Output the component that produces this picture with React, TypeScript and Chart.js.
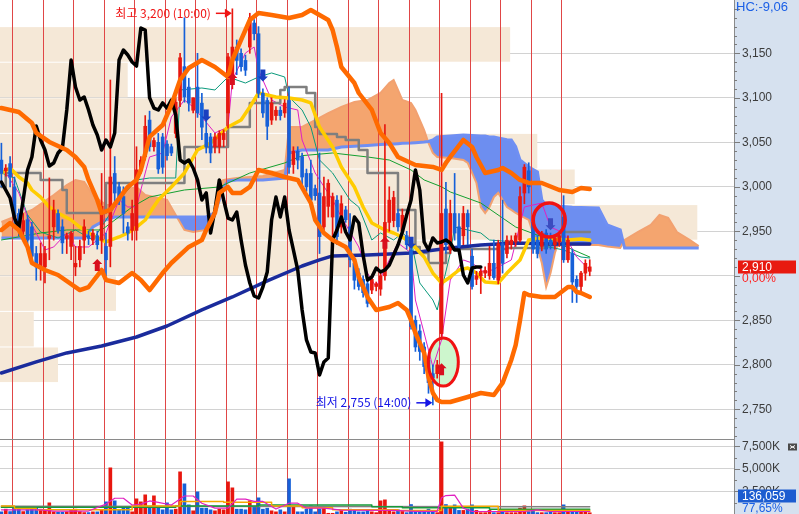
import { useEffect, useRef } from 'react';
import { Chart, registerables } from 'chart.js';

Chart.register(...registerables);

// ---------------- data ----------------
const sessionStarts = [3, 10, 17, 24, 31, 38, 45, 52, 59, 66, 73, 80, 87, 94, 101, 108, 115, 122, 129];
const hourLabels = ['09:00', '10:00', '11:00', '12:00', '13:00', '14:00', '15:00'];

const open = [3030,3018,3026,3000,2970,2950,2963,2955,2925,2910,
2910,2942,2955,2970,2955,2942,2933,2910,2918,2940,
2945,2940,2945,2940,2933,2933,3015,3000,2989,2955,
2951,2951,3019,3034,3075,3045,3050,3056,3048,3045,
3060,3097,3135,3112,3086,3112,3094,3060,3056,3045,
3045,3053,3083,3120,3157,3150,3142,3157,3184,3172,
3105,3097,3075,3080,3086,3083,3097,3025,3040,3034,
3015,3015,2998,2993,2955,2978,2966,2985,2955,2974,
2955,2914,2903,2896,2891,2884,2888,2885,2900,2960,
2962,2970,2950,2945,2929,2850,2838,2820,2805,2790,
2790,2835,2975,2929,2970,2955,2945,2970,2922,2896,
2900,2903,2900,2914,2895,2936,2925,2935,2938,2940,
2993,3018,2960,2940,2933,2948,2940,2935,2938,2966,
2918,2925,2896,2888,2903,2905];
const high = [3049,3025,3034,3011,2975,2970,2968,2960,2933,2937,
2933,3010,2985,2974,2963,2948,2950,2933,2940,2963,
2950,2952,2950,3015,2948,3120,3034,3005,3000,2960,
2985,3045,3034,3080,3085,3055,3060,3060,3052,3048,
3100,3150,3190,3122,3100,3150,3105,3075,3060,3060,
3063,3064,3150,3200,3165,3155,3148,3195,3188,3180,
3110,3100,3100,3090,3090,3098,3112,3045,3045,3038,
3020,3030,3002,3038,3011,3008,2993,2990,2990,2978,
2970,2918,2908,2900,2895,2900,2893,2905,3070,3000,
2995,2975,2975,2950,2935,2855,2845,2825,2810,2800,
2805,3105,3005,2985,3015,2970,2978,2974,2930,2905,
2908,2910,2933,2940,2940,2985,2945,2945,2948,3000,
3025,3027,2965,2945,2950,2952,2948,2945,2948,2990,
2945,2930,2900,2905,2918,2918];
const low = [3000,3012,3000,2955,2945,2945,2935,2915,2895,2895,
2892,2918,2940,2948,2925,2925,2918,2900,2910,2925,
2935,2935,2930,2925,2900,2910,2982,2980,2948,2940,
2940,2940,3015,3030,3040,3040,3015,3015,3030,3035,
3055,3090,3095,3085,3083,3078,3053,3038,3027,3038,
3038,3045,3066,3110,3126,3130,3125,3150,3165,3100,
3078,3053,3070,3075,3075,3078,3015,3015,3020,3000,
2995,2978,2985,2925,2951,2966,2940,2935,2948,2960,
2910,2885,2884,2876,2865,2880,2883,2878,2895,2950,
2955,2950,2945,2930,2840,2815,2805,2790,2768,2755,
2785,2830,2925,2925,2940,2925,2935,2935,2885,2890,
2880,2898,2896,2896,2891,2903,2920,2930,2933,2938,
2981,2993,2925,2920,2928,2925,2930,2930,2933,2915,
2915,2870,2870,2880,2895,2900];
const close = [3015,3021,3011,2966,2951,2962,2940,2922,2910,2925,
2925,2945,2974,2951,2937,2945,2948,2914,2933,2955,
2942,2948,2935,2978,2918,3011,2993,2985,2970,2948,
2970,3019,3030,3068,3045,3052,3020,3022,3035,3038,
3095,3145,3101,3094,3100,3083,3067,3045,3038,3056,
3060,3060,3146,3157,3142,3135,3131,3190,3172,3105,
3083,3068,3094,3086,3080,3094,3022,3040,3030,3011,
3000,2985,2990,2944,2989,3004,2989,2944,2981,2963,
2918,2895,2888,2881,2869,2896,2891,2900,2960,2985,
2988,2955,2968,2935,2843,2820,2815,2798,2780,2785,
2800,2970,2935,2970,2948,2933,2970,2955,2888,2900,
2905,2906,2914,2898,2936,2914,2940,2940,2945,2989,
3022,3000,2930,2925,2948,2930,2935,2942,2945,2918,
2940,2893,2888,2903,2914,2910];
const volumeK = [241,537,270,760,537,270,463,648,648,537,
400,1240,241,200,200,241,463,537,270,160,
160,241,241,463,1350,5130,1463,463,648,648,
241,1685,1350,2130,833,2018,648,463,1240,463,
537,4685,3351,1018,355,2463,648,648,463,355,
537,463,3574,2907,537,537,463,1463,833,1796,
537,648,355,241,463,241,3907,760,241,241,
537,907,241,537,648,80,80,241,400,200,
537,463,241,241,400,241,150,1463,1574,400,
241,463,400,150,1055,400,241,300,537,400,
150,8017,1055,760,1018,400,400,537,1018,400,
150,150,400,150,150,355,150,150,150,648,
907,270,463,150,150,150,270,150,150,1018,
270,400,241,241,270,136.059];

const priceTicks = [2750, 2800, 2850, 2900, 2950, 3000, 3050, 3100, 3150];
const volumeTicksK = [2500, 5000, 7500];

// price-by-volume bands
const profileLow = [3140, 3100, 3060, 3020, 2980, 2940, 2900, 2860, 2820, 2780];
const profileHigh = [3180, 3140, 3100, 3060, 3020, 2980, 2940, 2900, 2860, 2820];
const profileVol = [69.5, 17.4, 47.7, 73.2, 78.3, 95.0, 61.3, 15.8, 4.6, 7.9];

// envelope (thick orange)
const upperIdx = [0,4,7,8,11,15,17,19,20,22,23,25,29,31,32,34,37,39,41,43,46,49,52,53,55,57,59,62,66,69,71,75,76,77,78,81,82,85,87,89,91,95,99,101,102,103,106,108,109,111,114,115,117,119,121,124,128,131,133,135];
const upperVal = [3088.5,3084,3071.7,3060.5,3050.4,3041.4,3033.5,3022.3,3007.7,2985.2,2970.6,2974,2999.8,3007.7,3018.9,3056,3069.4,3091.9,3120,3133.5,3142.5,3134.6,3123.4,3142.5,3165,3187.4,3195.3,3193,3189.7,3193,3198.7,3187.4,3176.2,3157.1,3134.6,3116.6,3105.4,3086.3,3060.5,3049.2,3033.5,3024.5,3022.3,3018.9,3026.8,3033.5,3052.6,3044.7,3033.5,3015.5,3018.9,3021.1,3015.5,3007.7,3004.3,3004.3,2996.4,2994.2,2998.7,2997.5];
const lowerIdx = [0,2,4,6,7,10,13,18,20,23,24,27,30,32,34,37,39,43,46,47,49,50,52,53,55,57,59,62,65,68,71,72,74,76,79,81,82,84,86,89,91,93,94,95,97,98,99,100,101,103,107,110,113,115,117,118,119,120,121,124,127,130,131,132,133,135];
const lowerVal = [2951.5,2959.3,2951.5,2932.4,2914.4,2906.5,2900.9,2884,2887.4,2906.5,2895.3,2891.9,2903.1,2895.3,2884,2903.1,2914.4,2932.4,2940.2,2951.5,2970.6,2993.1,2999.8,2993.1,2993.1,2999.8,3018.9,3015.5,3011,3007.7,2981.8,2962.7,2948.1,2940.2,2932.4,2917.8,2898.7,2876.2,2861.6,2865,2869.4,2861.6,2850.3,2835.7,2813.3,2786.3,2768.3,2760.5,2758.2,2758.2,2763.8,2768.3,2766.1,2779.6,2805.4,2822,2850,2880.7,2878.4,2876.2,2876.2,2887.4,2887.4,2881.8,2880.7,2876.2];

// thick black line (candle 0..110)
const blackVal = [3005.4,2996.4,2987.4,2965,2953.7,2985.2,3018.9,3033.5,3068.3,3052.6,
3041.4,3023.4,3026.8,3038,3043.6,3086.3,3142.5,3112.2,3097.5,3100.9,
3086.3,3069.4,3058.2,3041.4,3052.6,3044.7,3060.5,3142.5,3153.7,3148.1,
3140.2,3135.7,3178.4,3176.2,3100,3088.5,3086.3,3094.2,3088.5,3097.5,
3080.7,3030.1,3026.8,3030.1,3021.1,3007.7,2985.2,2993.1,2948.1,2973.9,
3007.7,2985.2,2964.9,2962.7,2971.7,2940.2,2912.1,2891.9,2877.3,2875,
2887.4,2904.3,2962.7,2988.5,2966.1,2988.5,2951.5,2929,2906.5,2861.6,
2827.9,2814.4,2813.3,2788.6,2803.2,2807.6,2940.2,2951.5,2966.1,2949.2,
2940.2,2966.1,2959.3,2923.4,2895.3,2898.7,2908.8,2904.3,2906.5,2912.1,
2923.4,2934.6,2949.2,2968.3,2985.2,3018.9,2996.4,2938,2929,2942.5,
2936.9,2938,2940.2,2936.9,2929,2929,2900.9,2891.9,2908.8,2909.9,
2909.9];

const navyIdx = [0,8,15,23,31,38,46,53,61,69,73,76,84,94,103,110,118,126,135];
const navyVal = [2790.8,2803.2,2813.3,2821.1,2831.2,2843.6,2861.6,2876.2,2894.2,2911,2917.8,2922.3,2923.4,2925.6,2931.2,2934.6,2936.9,2935.7,2935.7];

const yellowIdx = [0,2,4,6,7,9,11,13,16,18,20,23,24,27,29,31,33,34,36,39,42,45,48,50,52,55,57,59,61,63,66,69,71,73,76,78,81,83,85,88,90,92,94,97,99,101,103,105,107,109,111,114,116,119,121,124,127,130,133,135];
const yellowVal = [3015.5,3021.1,3011,3004.3,2996.4,2988.5,2977.3,2970.6,2962.7,2954.8,2948.1,2940.2,2938,2943.6,2948.1,2954.8,2962.7,2970.6,2985.2,2999.8,3015.5,3041.4,3049.2,3058.2,3067.2,3075,3089.7,3105.4,3103.2,3100.9,3099.8,3097.5,3094.2,3067.2,3044.7,3022.3,2999.8,2977.3,2959.3,2951.5,2948.1,2943.6,2936.9,2921.1,2903.1,2891.9,2898.7,2906.5,2908.8,2903.1,2893,2891.9,2903.1,2917.8,2940.2,2942.5,2941.4,2940.2,2941.4,2940.2];

const grayIdx = [0,1,9,14,15,24,42,52,57,64,65,70,72,73,77,79,82,84,91,95,96,98,102,103,116,125,129,135];
const grayVal = [2999.8,3015.5,3007.7,2996.4,2970.6,3004.3,3044.7,3067.2,3094.2,3108.8,3112.2,3105.4,3067.2,3059.3,3056,3052.6,3041.4,3015.5,2973.9,2932.4,2925.6,2914.4,2925.6,2930.1,2931.2,2934.6,2949.2,2949.2];

const tealIdx = [0,3,6,9,13,17,21,24,27,31,34,40,41,46,49,52,56,59,62,65,66,69,71,73,76,80,82,85,87,90,92,94,96,99,100,101,103,104,107,110,112,121,129,133,135];
const tealVal = [3015.5,3009.9,2968.3,2949.2,2942.5,2951.5,2940.2,2962.7,2985.2,3007.7,3009.9,3009.9,3108.8,3111,3108.8,3123.4,3116.6,3123.4,3127.9,3123.4,3100.9,3086.3,3067.2,3030.1,3015.5,2985.2,2977.3,2940.2,2948.1,2940.2,2948.1,2940.2,2891.9,2872.8,2861.6,2884.1,2925.6,2954.8,2951.5,2948.1,2940.2,2936.9,2929,2921.1,2920];

const greenIdx = [0,9,15,23,30,34,42,50,57,65,69,76,84,89,94,97,101,103,110,118,126,135];
const greenVal = [2940.2,2948.1,2951.5,2951.5,2977.3,2988.5,2996.4,2999.8,3015.5,3026.8,3035,3038,3033.5,3030.1,3018.9,3007.7,3000,2994.2,2981.8,2954.8,2940.2,2921.1];

const magIdx = [1,4,6,8,10,12,15,17,20,22,24,27,29,31,33,34,37,39,42,44,46,49,52,53,56,58,59,62,65,68,69,72,76,78,82,84,86,89,91,94,95,97,99,101,103,106,108,111,114,117,120,124,126,129,132,135];
const magVal = [3015.5,2993.1,2966.1,2948.1,2929,2932.4,2948.1,2932.4,2932.4,2940.2,2948.1,2985.2,2977.3,2977.3,3015.5,3033.5,3038,3078.4,3097.5,3089.7,3078.4,3060.5,3067.2,3120,3150.3,3157.1,3131.2,3097.5,3089.7,3086.3,3052.6,3015.5,2985.2,2966.1,2932.4,2903.1,2887.4,2917.8,2936.9,2925.6,2872.8,2835.7,2797.5,2828,2895.3,2917.8,2914.4,2903.1,2909.9,2917.8,2977.3,2981.8,2954.8,2948.1,2921.1,2906.5];

// cloud (leading spans, shifted forward)
const cloudIdx = [0,7,12,15,17,19,21,24,26,28,31,33,35,38,40,42,44,47,49,50,51,52,54,57,60,65,66,69,72,75,78,81,84,87,89,90,91,92,94,95,97,98,99,100,103,106,107,109,110,111,112,113,114,116,117,118,119,121,123,124,125,126,127,128,131,135,137,139,142,143,146,149,151,153,155,158,160];
const spanA = [2960.5,2973.9,2990.8,3002,3007.7,3005.4,2990.8,2979.6,2979.6,2996.4,2999.8,2990.8,2988.5,2985.2,2968.3,2951.5,2949.2,2951.5,2968.3,3005.4,3007.7,3008.5,3009.9,3011,3012.1,3018.9,3067.2,3067.2,3075,3082.9,3089.7,3095.3,3097.5,3105.4,3116.6,3120,3108.8,3097.5,3094.2,3086.3,3063.8,3049.2,3038,3033.5,3032.4,3030.1,3026.8,3004.3,2977.3,2970.6,2977.3,2988.5,2993.1,2977.3,2974,2970.6,2968,2962.7,2932.4,2914.4,2887.4,2903.1,2925.6,2940.2,2934.6,2934.6,2934.6,2933,2931.2,2940.2,2949.2,2957.1,2968.3,2965,2949.2,2940.2,2933.5];
const spanB = [2942.5,2942.5,2942.5,2942.5,2942.5,2942.5,2954.8,2963,2966.1,2966.1,2966.1,2966.1,2966.1,2966.1,2966.1,2966.1,2966.1,2966.1,2970.6,2985.2,2999.8,3006.5,3007.7,3007.7,3007.7,3009.9,3038,3041.4,3041.4,3041.4,3044.7,3045.5,3046.5,3047.5,3048,3048,3048.5,3049,3049.2,3049.5,3050.3,3051,3052.6,3056,3057,3058.2,3058,3057.5,3057,3057,3056,3056,3055,3053,3052.6,3045,3030.1,3022.3,3016.6,2985.2,2979.6,2978,2978,2978,2977,2976.5,2976.2,2957.1,2951.5,2931.2,2931.2,2931.2,2931.2,2931.2,2931.2,2931.2,2931.2];

// volume moving averages (K)
const volMagIdx = [0,9,12,20,24,26,28,30,32,34,36,39,42,44,46,49,52,54,56,58,60,63,66,68,70,74,78,90,95,100,101,102,104,106,108,115,120,123,126,135];
const volMagVal = [460,460,330,330,1100,1750,1750,1000,1100,1450,1300,1000,2000,2000,1200,650,650,1650,1650,1400,1400,550,1200,1200,650,650,420,400,300,300,1800,2050,2100,650,280,280,280,450,280,280];
const volOrangeIdx = [0,3,8,23,30,41,50,51,61,62,69,76,91,100,101,113,114,121,135];
const volOrangeVal = [900,600,460,460,900,1400,1400,1300,1300,900,700,460,400,400,850,850,400,400,300];
const volGreenIdx = [0,20,40,58,59,84,85,92,111,112,121,135];
const volGreenVal = [760,760,900,900,1000,1000,800,700,700,530,530,530];
const volGrayIdx = [0,70,135];
const volGrayVal = [860,840,800];

// signals & marks
const buyIdx = [22, 53, 88, 101];
const buyPrice = [2912, 3121, 2937, 2795];
const sellIdx = [47, 60, 94, 126];
const sellPrice = [3080, 3125, 2937, 2958];
const circleIdx = [101.4, 125.7];
const circlePrice = [2803, 2962.7];

const headerText = 'HC:-9,06';
const changeText = '0,00%';
const volumeRatioText = '77,65%';

// ---------------- drawing ----------------
const RED = '#e8170f';
const BLUE = '#1660d8';
const AXIS_BG = '#d6e1ef';
const AXIS_FONT = '12px "Liberation Sans", Arial, sans-serif';
const KO_FONT = '12px "Noto Sans CJK KR", "Noto Sans", sans-serif';
const fmt = (v: number) => Math.round(v).toLocaleString('en-US');

function hourOf(n: number) {
  let start = sessionStarts[0] - 7;
  for (const s of sessionStarts) if (s <= n) start = s;
  return hourLabels[n - start];
}

function drawArrow(ctx: CanvasRenderingContext2D, x: number, y: number, up: boolean, color: string) {
  const s = up ? 1 : -1;
  ctx.fillStyle = color;
  ctx.beginPath();
  ctx.moveTo(x, y - 6 * s);
  ctx.lineTo(x + 5, y - 1 * s);
  ctx.lineTo(x + 2.5, y - 1 * s);
  ctx.lineTo(x + 2.5, y + 6 * s);
  ctx.lineTo(x - 2.5, y + 6 * s);
  ctx.lineTo(x - 2.5, y - 1 * s);
  ctx.lineTo(x - 5, y - 1 * s);
  ctx.closePath();
  ctx.fill();
}

function labelArrow(ctx: CanvasRenderingContext2D, text: string, tipX: number, y: number, color: string) {
  ctx.font = KO_FONT;
  ctx.textBaseline = 'middle';
  ctx.textAlign = 'right';
  ctx.fillStyle = color;
  ctx.fillText(text, tipX - 21, y);
  ctx.strokeStyle = color;
  ctx.lineWidth = 1.5;
  ctx.beginPath();
  ctx.moveTo(tipX - 16, y);
  ctx.lineTo(tipX - 5, y);
  ctx.stroke();
  ctx.beginPath();
  ctx.moveTo(tipX, y);
  ctx.lineTo(tipX - 7, y - 4.5);
  ctx.lineTo(tipX - 7, y + 4.5);
  ctx.closePath();
  ctx.fill();
}

const htsPlugin: any = {
  id: 'hts',
  beforeDraw(chart: any) {
    const { ctx, chartArea, width, height } = chart;
    ctx.save();
    ctx.fillStyle = '#ffffff';
    ctx.fillRect(0, 0, width, height);
    ctx.fillStyle = AXIS_BG;
    ctx.fillRect(chartArea.right, 0, width - chartArea.right, height);
    ctx.restore();
  },
  beforeDatasetsDraw(chart: any) {
    const { ctx, chartArea, scales } = chart;
    const Y = scales.y, XP = scales.xp, X = scales.x;
    ctx.save();
    ctx.fillStyle = '#f5e8d7';
    profileLow.forEach((lo, i) => {
      const yTop = Y.getPixelForValue(profileHigh[i]);
      const yBot = Y.getPixelForValue(lo);
      const xR = XP.getPixelForValue(profileVol[i]);
      ctx.fillRect(chartArea.left, yTop + 0.5, xR - chartArea.left, yBot - yTop - 1);
    });
    const cx = X.getPixelForValue(circleIdx[0]);
    const cy = Y.getPixelForValue(circlePrice[0]);
    ctx.fillStyle = '#cdf6cd';
    ctx.beginPath();
    ctx.ellipse(cx, cy, 15, 24, 0, 0, Math.PI * 2);
    ctx.fill();
    ctx.restore();
  },
  afterDatasetDraw(chart: any, args: any) {
    if (args.index !== 1) return;
    const { ctx, chartArea, scales } = chart;
    ctx.save();
    ctx.strokeStyle = '#e04646';
    ctx.lineWidth = 1;
    ctx.beginPath();
    sessionStarts.forEach((s) => {
      const x = Math.round(scales.x.getPixelForValue(s - 0.5)) + 0.5;
      ctx.moveTo(x, chartArea.top);
      ctx.lineTo(x, chartArea.bottom);
    });
    ctx.stroke();
    ctx.restore();
  },
  afterDatasetsDraw(chart: any) {
    const { ctx, chartArea, scales } = chart;
    const X = scales.x, Y = scales.y, V = scales.yv;
    ctx.save();
    ctx.beginPath();
    ctx.rect(chartArea.left, chartArea.top, chartArea.right - chartArea.left, chartArea.bottom - chartArea.top);
    ctx.clip();
    const ySep = Math.round(V.top) + 0.5;
    ctx.strokeStyle = '#8a8a8a';
    ctx.lineWidth = 1;
    ctx.beginPath();
    ctx.moveTo(chartArea.left, ySep);
    ctx.lineTo(chartArea.right, ySep);
    ctx.stroke();
    circleIdx.forEach((n, i) => {
      const cx = X.getPixelForValue(n);
      const cy = Y.getPixelForValue(circlePrice[i]);
      ctx.strokeStyle = '#f01212';
      ctx.lineWidth = i === 0 ? 3 : 3.5;
      ctx.beginPath();
      if (i === 0) ctx.ellipse(cx, cy, 15, 24, 0, 0, Math.PI * 2);
      else ctx.ellipse(cx, cy, 16, 17, 0, 0, Math.PI * 2);
      ctx.stroke();
    });
    buyIdx.forEach((n, i) => drawArrow(ctx, X.getPixelForValue(n), Y.getPixelForValue(buyPrice[i]), true, '#d80f1e'));
    sellIdx.forEach((n, i) => drawArrow(ctx, X.getPixelForValue(n), Y.getPixelForValue(sellPrice[i]), false, i === 3 ? '#3b4cc0' : '#1a3fc0'));
    const hi = Math.max(...high);
    const hiN = high.indexOf(hi);
    const lo = Math.min(...low);
    const loN = low.indexOf(lo);
    labelArrow(ctx, `최고 ${fmt(hi)} (${hourOf(hiN)})`, X.getPixelForValue(hiN) - 0.5, Y.getPixelForValue(hi) + 4.5, '#f01414');
    labelArrow(ctx, `최저 ${fmt(lo)} (${hourOf(loN)})`, X.getPixelForValue(loN) - 0.5, Y.getPixelForValue(lo) - 2, '#1414e6');
    ctx.restore();
  },
  afterDraw(chart: any) {
    const { ctx, chartArea, scales } = chart;
    const Y = scales.y, V = scales.yv;
    const ax = chartArea.right;
    ctx.save();
    ctx.strokeStyle = '#7c7c7c';
    ctx.lineWidth = 1;
    ctx.beginPath();
    for (let v = 2720; v <= 3200; v += 10) {
      const y = Math.round(Y.getPixelForValue(v)) + 0.5;
      ctx.moveTo(ax, y);
      ctx.lineTo(ax + (v % 50 === 0 ? 6 : 3), y);
    }
    for (let v = 1250; v <= 8000; v += 1250) {
      const y = Math.round(V.getPixelForValue(v)) + 0.5;
      ctx.moveTo(ax, y);
      ctx.lineTo(ax + (v % 2500 === 0 ? 6 : 3), y);
    }
    ctx.stroke();

    ctx.textBaseline = 'middle';
    ctx.textAlign = 'left';
    ctx.font = '13px "Liberation Sans", Arial, sans-serif';
    ctx.fillStyle = '#1a5fe6';
    ctx.fillText(headerText, ax + 2, 7);

    const last = close.length - 1;
    const yP = Y.getPixelForValue(close[last]);
    ctx.fillStyle = AXIS_BG;
    ctx.fillRect(ax + 8, Math.round(yP) + 6.5, 56, 11);
    ctx.fillStyle = '#e81a10';
    ctx.fillRect(ax + 4, Math.round(yP) - 6.5, 58, 13);
    ctx.font = AXIS_FONT;
    ctx.fillStyle = '#ffffff';
    ctx.fillText(fmt(close[last]), ax + 8, yP + 0.5);
    ctx.fillStyle = '#ff2020';
    ctx.fillText(changeText, ax + 8, yP + 12);

    const yV = Math.min(V.getPixelForValue(volumeK[last]), chartArea.bottom - 18);
    ctx.fillStyle = AXIS_BG;
    ctx.fillRect(ax + 8, Math.round(yV) + 6.5, 56, 12);
    ctx.fillStyle = '#1c5cd0';
    ctx.fillRect(ax + 4, Math.round(yV) - 6.5, 58, 13);
    ctx.fillStyle = '#ffffff';
    ctx.fillText(fmt(volumeK[last] * 1000), ax + 8, yV + 0.5);
    ctx.fillStyle = '#1a60e6';
    ctx.fillText(volumeRatioText, ax + 8, yV + 12.5);

    const yIcon = V.getPixelForValue(7500);
    ctx.fillStyle = '#4a4a4a';
    ctx.fillRect(ax + 54, yIcon - 3, 9, 7);
    ctx.strokeStyle = '#ffffff';
    ctx.beginPath();
    ctx.moveTo(ax + 56, yIcon - 1); ctx.lineTo(ax + 61, yIcon + 2);
    ctx.moveTo(ax + 61, yIcon - 1); ctx.lineTo(ax + 56, yIcon + 2);
    ctx.stroke();
    ctx.restore();
  },
};

function buildConfig() {
  const candleColor = close.map((c, i) => (c >= open[i] ? RED : BLUE));
  const pts = (idx: number[], vals: number[]) => idx.map((x, i) => ({ x, y: vals[i] }));
  const line = (idx: number[], vals: number[], color: string, width: number, order: number, extra: any = {}) => ({
    type: 'line',
    data: pts(idx, vals),
    borderColor: color,
    borderWidth: width,
    pointRadius: 0,
    fill: false,
    order,
    yAxisID: 'y',
    borderJoinStyle: 'round',
    borderCapStyle: 'round',
    ...extra,
  });
  const idxAll = (arr: number[]) => arr.map((_, i) => i);

  const datasets: any[] = [
    { type: 'line', data: pts(cloudIdx, spanA), borderColor: '#f2a170', borderWidth: 2, pointRadius: 0, fill: { target: 1, above: '#f4a56f', below: '#6d8ef0' }, order: 101, yAxisID: 'y' },
    { type: 'line', data: pts(cloudIdx, spanB), borderColor: '#6f8ff3', borderWidth: 3, pointRadius: 0, fill: false, order: 100, yAxisID: 'y' },
    line(tealIdx, tealVal, '#0a9a7c', 1, 62),
    line(greenIdx, greenVal, '#14a030', 1, 61),
    line(magIdx, magVal, '#e01fc4', 1, 60),
    line(grayIdx, grayVal, '#7f7f7f', 2.5, 56, { stepped: true }),
    line(navyIdx, navyVal, '#1a2b9c', 3.5, 54),
    line(yellowIdx, yellowVal, '#ffcc00', 3.5, 52),
    {
      type: 'bar', data: high.map((h, i) => ({ x: i, y: [low[i], h] })), backgroundColor: candleColor,
      barThickness: 1, grouped: false, order: 46, yAxisID: 'y', borderWidth: 0,
    },
    {
      type: 'bar', data: open.map((o, i) => ({ x: i, y: [Math.min(o, close[i]), Math.max(o, close[i])] })),
      backgroundColor: candleColor, barThickness: 3, grouped: false, minBarLength: 1, order: 45, yAxisID: 'y', borderWidth: 0,
    },
    line(idxAll(blackVal), blackVal, '#000000', 3.5, 40),
    line(upperIdx, upperVal, '#ff6a00', 4.5, 38),
    line(lowerIdx, lowerVal, '#ff6a00', 4.5, 38),
    {
      type: 'bar', data: volumeK.map((v, i) => ({ x: i, y: v })), backgroundColor: candleColor,
      barThickness: 3, grouped: false, order: 30, yAxisID: 'yv', borderWidth: 0,
    },
    { ...line(volGrayIdx, volGrayVal, '#808080', 1.5, 29), yAxisID: 'yv' },
    { ...line(volGreenIdx, volGreenVal, '#169a3a', 1.5, 28, { stepped: true }), yAxisID: 'yv' },
    { ...line(volOrangeIdx, volOrangeVal, '#f5a800', 1.5, 27, { stepped: true }), yAxisID: 'yv' },
    { ...line(volMagIdx, volMagVal, '#e020c0', 1.2, 26), yAxisID: 'yv' },
  ];

  return {
    type: 'bar',
    data: { datasets },
    options: {
      responsive: false,
      maintainAspectRatio: false,
      animation: false,
      devicePixelRatio: 1,
      events: [],
      layout: { padding: 0 },
      plugins: { legend: { display: false }, tooltip: { enabled: false } },
      elements: { point: { radius: 0 } },
      scales: {
        x: { type: 'linear', display: false, offset: false, min: -0.32, max: 168.1, grid: { offset: false } },
        xp: { type: 'linear', axis: 'x', display: false, offset: false, min: 0, max: 100, grid: { offset: false } },
        y: {
          type: 'linear', position: 'right', stack: 'panes', stackWeight: 439,
          min: 2716.6, max: 3209.9,
          afterBuildTicks: (s: any) => { s.ticks = priceTicks.map((value) => ({ value })); },
          afterFit: (s: any) => { s.width = 65; s.paddingTop = 0; s.paddingBottom = 0; },
          grid: { color: '#d2d2d2', drawTicks: false },
          border: { display: true, color: '#8a8a8a' },
          ticks: { padding: 8, color: '#3c3c3c', autoSkip: false, font: { family: '"Liberation Sans", Arial, sans-serif', size: 12 }, callback: (v: any) => fmt(Number(v)) },
        },
        yv: {
          type: 'linear', position: 'right', stack: 'panes', stackWeight: 75,
          min: 0, max: 8333,
          afterBuildTicks: (s: any) => { s.ticks = volumeTicksK.map((value) => ({ value })); },
          afterFit: (s: any) => { s.width = 65; s.paddingTop = 0; s.paddingBottom = 0; },
          grid: { color: '#d2d2d2', drawTicks: false },
          border: { display: true, color: '#8a8a8a' },
          ticks: { padding: 8, color: '#3c3c3c', autoSkip: false, font: { family: '"Liberation Sans", Arial, sans-serif', size: 12 }, callback: (v: any) => fmt(Number(v)) + 'K' },
        },
      },
    },
    plugins: [htsPlugin],
  };
}

export default function App() {
  const canvasRef = useRef<HTMLCanvasElement | null>(null);
  useEffect(() => {
    const canvas = canvasRef.current;
    if (!canvas) return;
    const chart = new Chart(canvas, buildConfig() as any);
    return () => chart.destroy();
  }, []);
  return (
    <div style={{ position: 'absolute', left: 0, top: 0, width: 799, height: 514, overflow: 'hidden' }}>
      <canvas ref={canvasRef} width={799} height={514} style={{ display: 'block' }} />
    </div>
  );
}
